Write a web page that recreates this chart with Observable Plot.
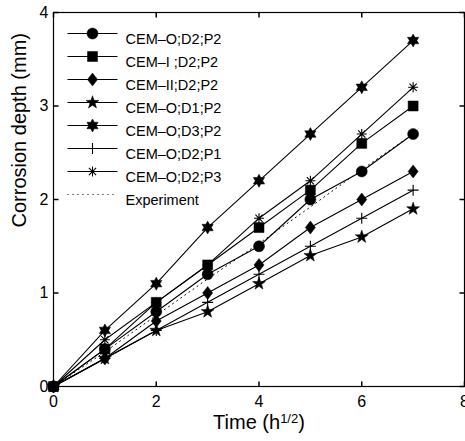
<!DOCTYPE html>
<html><head><meta charset="utf-8">
<script src="https://cdn.jsdelivr.net/npm/d3@7"></script>
<script src="https://cdn.jsdelivr.net/npm/@observablehq/plot@0.6"></script>
<style>body{margin:0;background:#fff;} svg{overflow:visible;}</style>
</head><body><div id="chart"></div>
<script>
// ---- data ----
const time = [0, 1, 2, 3, 4, 5, 6, 7];
const seriesNames = ["CEM\u2013O;D2;P2", "CEM\u2013I ;D2;P2", "CEM\u2013II;D2;P2", "CEM\u2013O;D1;P2",
  "CEM\u2013O;D3;P2", "CEM\u2013O;D2;P1", "CEM\u2013O;D2;P3", "Experiment"];
const cemO_D2_P2 = [0, 0.4, 0.8, 1.2, 1.5, 2.0, 2.3, 2.7];
const cemI_D2_P2 = [0, 0.4, 0.9, 1.3, 1.7, 2.1, 2.6, 3.0];
const cemII_D2_P2 = [0, 0.3, 0.7, 1.0, 1.3, 1.7, 2.0, 2.3];
const cemO_D1_P2 = [0, 0.3, 0.6, 0.8, 1.1, 1.4, 1.6, 1.9];
const cemO_D3_P2 = [0, 0.6, 1.1, 1.7, 2.2, 2.7, 3.2, 3.7];
const cemO_D2_P1 = [0, 0.3, 0.6, 0.9, 1.2, 1.5, 1.8, 2.1];
const cemO_D2_P3 = [0, 0.5, 0.9, 1.3, 1.8, 2.2, 2.7, 3.2];
const experiment = [0, 0.37, 0.76, 1.15, 1.53, 1.92, 2.32, 2.7];
const xTicks = [0, 2, 4, 6, 8];
const yTicks = [0, 1, 2, 3, 4];

// ---- marker shapes ----
function starPath(ctx, n, R, r) {
  for (let i = 0; i < 2 * n; i++) {
    const a = Math.PI / n * i - Math.PI / 2, rad = i % 2 ? r : R;
    const px = rad * Math.cos(a), py = rad * Math.sin(a);
    i ? ctx.lineTo(px, py) : ctx.moveTo(px, py);
  }
  ctx.closePath();
}
const symCircle = {draw(ctx) { ctx.moveTo(5.5, 0); ctx.arc(0, 0, 5.5, 0, 2 * Math.PI); }};
const symSquare = {draw(ctx) { ctx.rect(-5, -5, 10, 10); }};
const symDiamond = {draw(ctx) { ctx.moveTo(0, -6.5); ctx.lineTo(5, 0); ctx.lineTo(0, 6.5); ctx.lineTo(-5, 0); ctx.closePath(); }};
const symStar = {draw(ctx) { starPath(ctx, 5, 6.8, 2.7); }};
const symHexagram = {draw(ctx) { starPath(ctx, 6, 6.5, 3.7); }};
const symPlus = {draw(ctx) { ctx.moveTo(-5.5, 0); ctx.lineTo(5.5, 0); ctx.moveTo(0, -5.5); ctx.lineTo(0, 5.5); }};
const symAsterisk = {draw(ctx) {
  ctx.moveTo(-5, 0); ctx.lineTo(5, 0); ctx.moveTo(0, -5); ctx.lineTo(0, 5);
  ctx.moveTo(-3.6, -3.6); ctx.lineTo(3.6, 3.6); ctx.moveTo(-3.6, 3.6); ctx.lineTo(3.6, -3.6);
}};
const symLegendLine = {draw(ctx) { ctx.moveTo(-25, 0); ctx.lineTo(25, 0); }};
const tickUp = {draw(ctx) { ctx.moveTo(0, 0); ctx.lineTo(0, -5); }};
const tickDown = {draw(ctx) { ctx.moveTo(0, 0); ctx.lineTo(0, 5); }};
const tickRight = {draw(ctx) { ctx.moveTo(0, 0); ctx.lineTo(5, 0); }};
const tickLeft = {draw(ctx) { ctx.moveTo(0, 0); ctx.lineTo(-5, 0); }};

const series = [
  {name: seriesNames[0], values: cemO_D2_P2, symbol: symCircle, filled: true},
  {name: seriesNames[1], values: cemI_D2_P2, symbol: symSquare, filled: true},
  {name: seriesNames[2], values: cemII_D2_P2, symbol: symDiamond, filled: true},
  {name: seriesNames[3], values: cemO_D1_P2, symbol: symStar, filled: true},
  {name: seriesNames[4], values: cemO_D3_P2, symbol: symHexagram, filled: true},
  {name: seriesNames[5], values: cemO_D2_P1, symbol: symPlus, filled: false},
  {name: seriesNames[6], values: cemO_D2_P3, symbol: symAsterisk, filled: false},
  {name: seriesNames[7], values: experiment, symbol: null, filled: false, dotted: true}
];

const marks = [];
series.forEach((s) => {
  const rows = time.map((t, i) => ({t, v: s.values[i]}));
  marks.push(Plot.line(rows, {x: "t", y: "v", stroke: "black", strokeWidth: s.dotted ? 1 : 1.1,
    strokeDasharray: s.dotted ? "1,4" : null}));
  if (s.symbol) marks.push(Plot.dot(rows, {x: "t", y: "v", symbol: s.symbol,
    fill: s.filled ? "black" : "none", stroke: "black", strokeWidth: s.filled ? 0.5 : 1.1}));
});

// legend
series.forEach((s, i) => {
  const dy = 21 + 23 * i;
  marks.push(Plot.dot([s.name], {frameAnchor: "top-left", dx: 39, dy, symbol: symLegendLine,
    fill: "none", stroke: "black", strokeWidth: s.dotted ? 1 : 1.1, strokeDasharray: s.dotted ? "1,4" : null}));
  if (s.symbol) marks.push(Plot.dot([s.name], {frameAnchor: "top-left", dx: 39, dy, symbol: s.symbol,
    fill: s.filled ? "black" : "none", stroke: "black", strokeWidth: s.filled ? 0.5 : 1.1}));
  marks.push(Plot.text([s.name], {frameAnchor: "top-left", dx: 72, dy, text: d => d,
    textAnchor: "start", fontSize: 14.5, fill: "black"}));
});

// ticks (inward, on all four sides)
marks.push(Plot.dot(xTicks, {x: d => d, frameAnchor: "bottom", symbol: tickUp, fill: "none", stroke: "black"}));
marks.push(Plot.dot(xTicks, {x: d => d, frameAnchor: "top", symbol: tickDown, fill: "none", stroke: "black"}));
marks.push(Plot.dot(yTicks, {y: d => d, frameAnchor: "left", symbol: tickRight, fill: "none", stroke: "black"}));
marks.push(Plot.dot(yTicks, {y: d => d, frameAnchor: "right", symbol: tickLeft, fill: "none", stroke: "black"}));
marks.push(Plot.frame({stroke: "black", strokeWidth: 1.2}));
marks.push(Plot.axisX({ticks: xTicks, tickSize: 0, tickPadding: 9, fontSize: 16, label: null, tickFormat: d => d}));
marks.push(Plot.axisY({ticks: yTicks, tickSize: 0, tickPadding: 5, fontSize: 16, label: null, tickFormat: d => d}));
marks.push(Plot.text(["Corrosion depth (mm)"], {frameAnchor: "left", dx: -34, dy: 28, rotate: -90, text: d => d, fontSize: 20, fill: "black"}));
marks.push(Plot.text(["Time (h1/2)"], {frameAnchor: "bottom", dy: 42, text: d => d, fontSize: 20, fill: "black"}));

const chart = Plot.plot({
  width: 465, height: 441,
  marginLeft: 53, marginRight: 1, marginTop: 12, marginBottom: 55,
  x: {domain: [0, 8]},
  y: {domain: [0, 4]},
  style: {fontFamily: "Liberation Sans, Arial, Helvetica, sans-serif", background: "white", color: "black"},
  marks
});
document.getElementById("chart").appendChild(chart);

// superscript in x label
d3.select(chart).selectAll("text").each(function () {
  if (this.textContent === "Time (h1/2)") {
    const t = d3.select(this);
    t.text(null);
    t.append("tspan").text("Time (h");
    t.append("tspan").attr("dy", "-0.45em").attr("font-size", "13px").text("1/2");
    t.append("tspan").attr("dy", "0.3em").text(")");
  }
});
</script></body></html>
